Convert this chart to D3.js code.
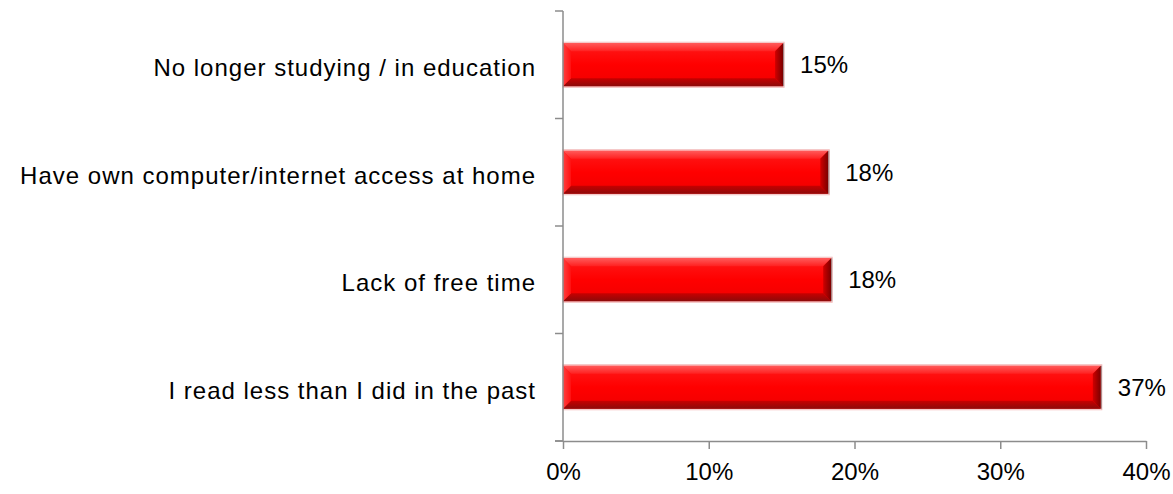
<!DOCTYPE html>
<html>
<head>
<meta charset="utf-8">
<script src="https://cdn.jsdelivr.net/npm/d3@7"></script>
<style>
  html, body { margin: 0; padding: 0; background: #ffffff; }
  svg { display: block; }
  text { font-family: "Liberation Sans", Arial, sans-serif; fill: #000; }
</style>
</head>
<body>
<svg id="chart" width="1173" height="494"></svg>
<script>
// Reasons given, top to bottom
const categories = [
  "No longer studying / in education",
  "Have own computer/internet access at home",
  "Lack of free time",
  "I read less than I did in the past"
];
// Share of respondents (%)
const values = [15.1, 18.2, 18.4, 36.9];
// Horizontal axis ticks (%)
const xTicks = [0, 10, 20, 30, 40];

const svg = d3.select("#chart");
const plotLeft = 563, plotRight = 1146, plotTop = 11, plotBottom = 441;
const fontSize = 24;

const x = d3.scaleLinear().domain([0, 40]).range([plotLeft, plotRight]);
const y = d3.scaleBand().domain(categories).range([plotTop, plotBottom])
  .paddingInner(0.6).paddingOuter(0.3);

const data = categories.map((c, i) => ({ cat: c, value: values[i] }));

// gradients for the bevelled bar faces
const defs = svg.append("defs");
function vgrad(id, stops) {
  const g = defs.append("linearGradient").attr("id", id)
    .attr("x1", 0).attr("y1", 0).attr("x2", 0).attr("y2", 1);
  stops.forEach(s => g.append("stop").attr("offset", s[0]).attr("stop-color", s[1]));
}
function hgrad(id, stops) {
  const g = defs.append("linearGradient").attr("id", id)
    .attr("x1", 0).attr("y1", 0).attr("x2", 1).attr("y2", 0);
  stops.forEach(s => g.append("stop").attr("offset", s[0]).attr("stop-color", s[1]));
}
vgrad("face", [[0, "#ff1a1a"], [0.5, "#ff0000"], [1, "#f00000"]]);
vgrad("topBevel", [[0, "#ff5a5a"], [1, "#ff2020"]]);
vgrad("bottomBevel", [[0, "#c80000"], [1, "#8c0a0a"]]);
hgrad("leftBevel", [[0, "#ff4040"], [1, "#ff1010"]]);
hgrad("rightBevel", [[0, "#d00000"], [1, "#7a0000"]]);

// bars
const bev = 8;
const bars = svg.append("g").selectAll("g").data(data).join("g");
bars.each(function(d) {
  const g = d3.select(this);
  const x0 = x(0), x1 = x(d.value), y0 = y(d.cat), y1 = y(d.cat) + y.bandwidth();
  const b = Math.min(bev, (x1 - x0) / 2);
  // soft outline
  g.append("rect").attr("x", x0).attr("y", y0 - 1).attr("width", x1 - x0 + 1).attr("height", y1 - y0 + 2)
    .attr("fill", "none").attr("stroke", "#f2b8b8").attr("stroke-width", 1);
  g.append("rect").attr("x", x0).attr("y", y0).attr("width", x1 - x0).attr("height", y1 - y0)
    .attr("fill", "url(#face)");
  const pts = a => a.map(p => p.join(",")).join(" ");
  g.append("polygon").attr("points", pts([[x0, y0], [x1, y0], [x1 - b, y0 + b], [x0 + b, y0 + b]]))
    .attr("fill", "url(#topBevel)");
  g.append("polygon").attr("points", pts([[x0, y1], [x1, y1], [x1 - b, y1 - b], [x0 + b, y1 - b]]))
    .attr("fill", "url(#bottomBevel)");
  g.append("polygon").attr("points", pts([[x0, y0], [x0 + b, y0 + b], [x0 + b, y1 - b], [x0, y1]]))
    .attr("fill", "url(#leftBevel)");
  g.append("polygon").attr("points", pts([[x1, y0], [x1 - b, y0 + b], [x1 - b, y1 - b], [x1, y1]]))
    .attr("fill", "url(#rightBevel)");
  // thin grey shadow along the far end
  g.append("line").attr("x1", x1 + 0.5).attr("x2", x1 + 0.5).attr("y1", y0).attr("y2", y1)
    .attr("stroke", "#9a8080").attr("stroke-width", 1);
});

// value labels
svg.append("g").selectAll("text").data(data).join("text")
  .attr("x", d => x(d.value) + 17)
  .attr("y", d => y(d.cat) + y.bandwidth() / 2)
  .attr("dy", "0.35em")
  .style("font-size", fontSize + "px")
  .text(d => Math.round(d.value) + "%");

// vertical category axis
const axisColor = "#8c8c8c";
const yAxisG = svg.append("g");
yAxisG.append("line").attr("x1", plotLeft).attr("x2", plotLeft).attr("y1", plotTop).attr("y2", plotBottom)
  .attr("stroke", axisColor).attr("stroke-width", 1.5);
const boundaries = categories.map(c => y(c) - y.step() * 0.3).concat([plotBottom]);
yAxisG.selectAll("line.tick").data(boundaries).join("line").attr("class", "tick")
  .attr("x1", plotLeft - 8).attr("x2", plotLeft).attr("y1", d => d).attr("y2", d => d)
  .attr("stroke", axisColor).attr("stroke-width", 1.5);
yAxisG.selectAll("text").data(categories).join("text")
  .attr("x", plotLeft - 27)
  .attr("y", d => y(d) + y.bandwidth() / 2 + 3)
  .attr("dy", "0.35em")
  .attr("text-anchor", "end")
  .style("font-size", fontSize + "px")
  .style("letter-spacing", "1px")
  .text(d => d);

// horizontal value axis
const xAxis = d3.axisBottom(x).tickValues(xTicks).tickFormat(d => d + "%")
  .tickSize(8).tickSizeOuter(0).tickPadding(14);
const xg = svg.append("g").attr("transform", `translate(0,${plotBottom})`).call(xAxis);
xg.select(".domain").attr("stroke", axisColor).attr("stroke-width", 1.5);
xg.selectAll(".tick line").attr("stroke", axisColor).attr("stroke-width", 1.5);
xg.selectAll(".tick text")
  .style("font-size", fontSize + "px")
  .style("font-family", '"Liberation Sans", Arial, sans-serif')
  .attr("fill", "#000");
// extend the domain to the left of the origin
xg.append("line").attr("x1", plotLeft - 8).attr("x2", plotLeft).attr("y1", 0).attr("y2", 0)
  .attr("stroke", axisColor).attr("stroke-width", 1.5);
</script>
</body>
</html>
